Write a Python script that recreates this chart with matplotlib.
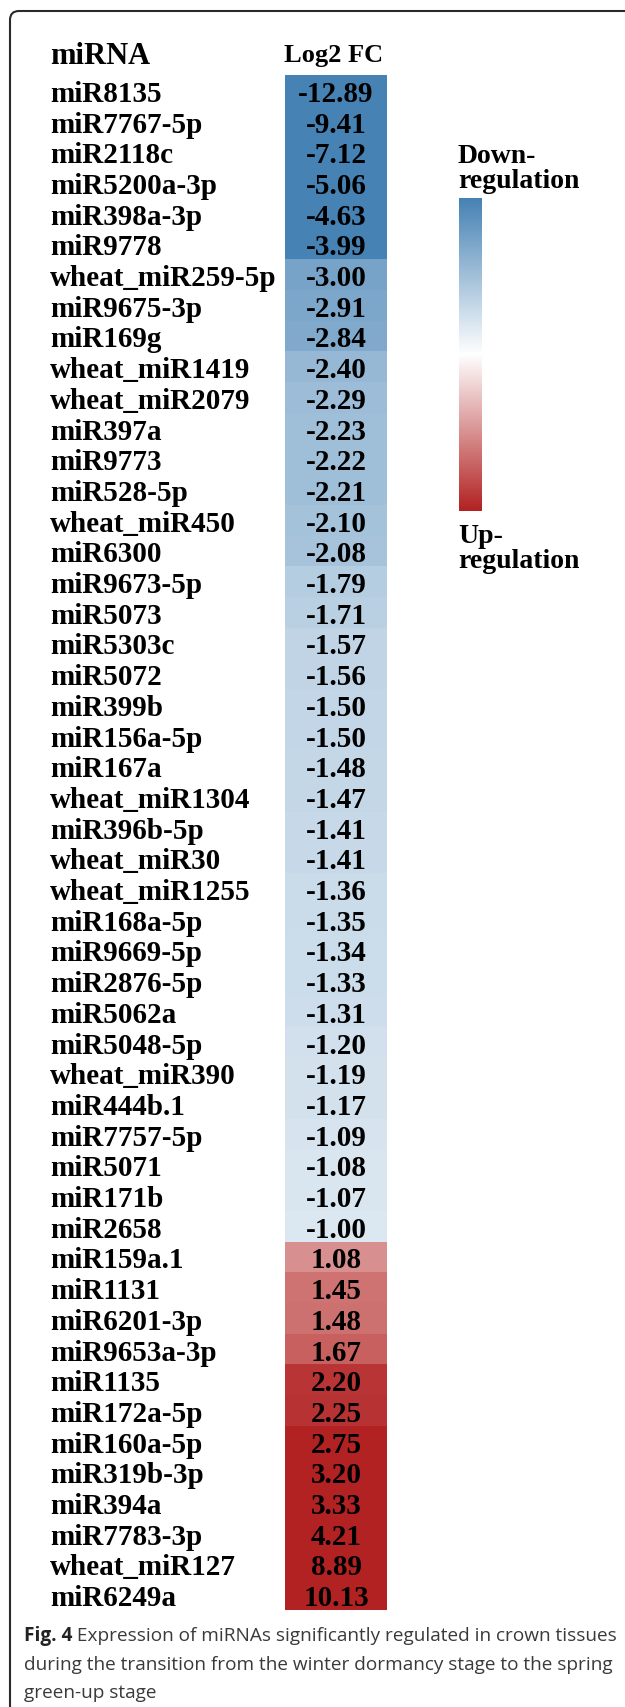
import numpy as np
import matplotlib
matplotlib.use("Agg")
import matplotlib.pyplot as plt
import matplotlib.transforms as mtransforms
from matplotlib.colors import LinearSegmentedColormap, TwoSlopeNorm
from matplotlib.patches import FancyBboxPatch

# ---------------- data ----------------
mirnas = [
    "miR8135", "miR7767-5p", "miR2118c", "miR5200a-3p", "miR398a-3p", "miR9778",
    "wheat_miR259-5p", "miR9675-3p", "miR169g", "wheat_miR1419", "wheat_miR2079",
    "miR397a", "miR9773", "miR528-5p", "wheat_miR450", "miR6300", "miR9673-5p",
    "miR5073", "miR5303c", "miR5072", "miR399b", "miR156a-5p", "miR167a",
    "wheat_miR1304", "miR396b-5p", "wheat_miR30", "wheat_miR1255", "miR168a-5p",
    "miR9669-5p", "miR2876-5p", "miR5062a", "miR5048-5p", "wheat_miR390",
    "miR444b.1", "miR7757-5p", "miR5071", "miR171b", "miR2658", "miR159a.1",
    "miR1131", "miR6201-3p", "miR9653a-3p", "miR1135", "miR172a-5p", "miR160a-5p",
    "miR319b-3p", "miR394a", "miR7783-3p", "wheat_miR127", "miR6249a",
]
log2fc = [
    -12.89, -9.41, -7.12, -5.06, -4.63, -3.99, -3.00, -2.91, -2.84, -2.40, -2.29,
    -2.23, -2.22, -2.21, -2.10, -2.08, -1.79, -1.71, -1.57, -1.56, -1.50, -1.50,
    -1.48, -1.47, -1.41, -1.41, -1.36, -1.35, -1.34, -1.33, -1.31, -1.20, -1.19,
    -1.17, -1.09, -1.08, -1.07, -1.00, 1.08, 1.45, 1.48, 1.67, 2.20, 2.25, 2.75,
    3.20, 3.33, 4.21, 8.89, 10.13,
]
header_labels = ["miRNA", "Log2 FC"]
legend_labels = ["Down-\nregulation", "Up-\nregulation"]
caption_bold = "Fig. 4"
caption_lines = [
    " Expression of miRNAs significantly regulated in crown tissues",
    "during the transition from the winter dormancy stage to the spring",
    "green-up stage",
]

# ---------------- layout ----------------
W, H = 625, 1708
fig = plt.figure(figsize=(W / 100, H / 100), dpi=100)
fig.patch.set_facecolor("white")

SERIF = ["Liberation Serif", "DejaVu Serif"]
SANS = ["Open Sans", "DejaVu Sans"]

# overlay axes in pixel coordinates (for frame and free text)
bg = fig.add_axes([0, 0, 1, 1])
bg.set_xlim(0, W)
bg.set_ylim(H, 0)
bg.axis("off")
bg.set_zorder(0)

frame = FancyBboxPatch((10, 12), 700, 1800,
                       boxstyle="round,pad=0,rounding_size=9",
                       fill=False, edgecolor="#2a2a2a", linewidth=1.5)
bg.add_patch(frame)

cmap = LinearSegmentedColormap.from_list(
    "bwr_custom", ["#4682B4", "#FFFFFF", "#B22222"])
norm = TwoSlopeNorm(vmin=-4.0, vcenter=-0.3, vmax=2.45)

# heatmap axes
hx0, hx1, hy0, hy1 = 285, 387, 76, 1611
ax = fig.add_axes([hx0 / W, 1 - hy1 / H, (hx1 - hx0) / W, (hy1 - hy0) / H])
ax.set_zorder(1)
vals = np.array(log2fc).reshape(-1, 1)
n = len(log2fc)
ax.pcolormesh(np.arange(2), np.arange(n + 1), vals, cmap=cmap, norm=norm,
              shading="flat", edgecolor="none", antialiased=False)
ax.set_xlim(0, 1)
ax.set_ylim(n, 0)
ax.axis("off")

FS = 21
for i, v in enumerate(log2fc):
    ax.text(0.5, i + 0.5, f"{v:.2f}", ha="center", va="center_baseline",
            fontsize=FS, fontweight="bold", family=SERIF, color="black")

lab_tr = mtransforms.blended_transform_factory(fig.transFigure, ax.transData)
LX = 50
for i, name in enumerate(mirnas):
    ax.text(LX / W, i + 0.5, name, ha="left", va="center_baseline",
            fontsize=FS, fontweight="bold", family=SERIF, color="black",
            transform=lab_tr, clip_on=False)

# headers
bg.text(LX, 53, header_labels[0], ha="left", va="center_baseline",
        fontsize=FS + 1, fontweight="bold", family=SERIF, color="black")
bg.text(334, 53, header_labels[1], ha="center",
        va="center_baseline", fontsize=FS - 2, fontweight="bold",
        family=SERIF, color="black")

# legend colour bar
cx0, cx1, cy0, cy1 = 459, 482, 199, 512
cax = fig.add_axes([cx0 / W, 1 - cy1 / H, (cx1 - cx0) / W, (cy1 - cy0) / H])
grad = np.linspace(0, 1, 256).reshape(-1, 1)
cax.imshow(grad, cmap=cmap, aspect="auto", origin="upper",
           extent=[0, 1, 1, 0])
cax.axis("off")

LFS = 20
bg.text(cx0 - 1, 169, legend_labels[0], ha="left", va="center",
        fontsize=LFS, fontweight="bold", family=SERIF, color="black",
        linespacing=1.0)
bg.text(cx0 - 1, 549, legend_labels[1], ha="left", va="center",
        fontsize=LFS, fontweight="bold", family=SERIF, color="black",
        linespacing=1.0)

# caption
fig.canvas.draw()
renderer = fig.canvas.get_renderer()
cap_fs = 13.0
CX = 24
target_w = 612 - CX
t = bg.text(CX, 0, caption_lines[1], fontsize=cap_fs, family=SANS)
w = t.get_window_extent(renderer).width
t.remove()
cap_fs = cap_fs * target_w / w

cap_y = [1634, 1663, 1691]
tb = bg.text(CX, cap_y[0], caption_bold, ha="left", va="center_baseline",
             fontsize=cap_fs, fontweight="bold", family=SANS, color="#222222")
bw = tb.get_window_extent(renderer).width
bg.text(CX + bw, cap_y[0], caption_lines[0], ha="left", va="center_baseline",
        fontsize=cap_fs, family=SANS, color="#3a3a3a")
for yy, line in zip(cap_y[1:], caption_lines[1:]):
    bg.text(CX, yy, line, ha="left", va="center_baseline",
            fontsize=cap_fs, family=SANS, color="#3a3a3a")

fig.savefig("out.png", dpi=100, facecolor="white")
